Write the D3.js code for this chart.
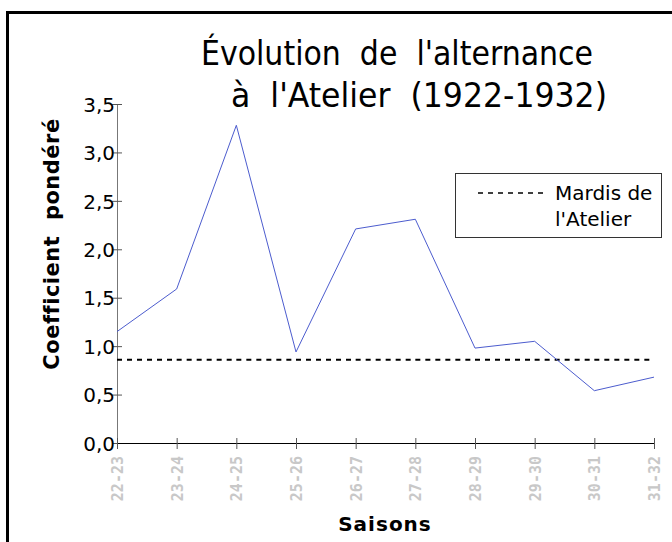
<!DOCTYPE html>
<html>
<head>
<meta charset="utf-8">
<script src="https://cdn.jsdelivr.net/npm/d3@7"></script>
<style>
  body { margin: 0; background: #fff; }
  svg { display: block; }
</style>
</head>
<body>
<svg id="chart" width="672" height="542"></svg>
<script>
// Data
const saisons = ["22-23", "23-24", "24-25", "25-26", "26-27", "27-28", "28-29", "29-30", "30-31", "31-32"];
const coefficients = [1.15, 1.59, 3.28, 0.94, 2.21, 2.31, 0.98, 1.05, 0.54, 0.68];
const mardis = [0.86, 0.86, 0.86, 0.86, 0.86, 0.86, 0.86, 0.86, 0.86, 0.86];
const yTicks = [0, 0.5, 1, 1.5, 2, 2.5, 3, 3.5];
const titleLines = ["Évolution  de  l'alternance", "à  l'Atelier  (1922-1932)"];
const legendLines = ["Mardis de", "l'Atelier"];

const svg = d3.select("#chart");

// Outer frame (right and bottom edges run off the picture)
svg.append("rect")
   .attr("x", 7.5)
   .attr("y", 12.5)
   .attr("width", 720)
   .attr("height", 620)
   .style("fill", "none")
   .style("stroke", "#000")
   .style("stroke-width", "3px");

let x = d3.scalePoint()
          .domain(saisons)
          .range([117, 654]);

let y = d3.scaleLinear()
          .domain([0, 3.5])
          .range([443, 104]);

// Title, two lines, second one shifted right
svg.append("text")
   .attr("x", 201)
   .attr("y", 65)
   .attr("textLength", 392)
   .attr("lengthAdjust", "spacingAndGlyphs")
   .style("font-family", "'Liberation Sans Narrow', 'DejaVu Sans Condensed', sans-serif")
   .style("font-size", "34px")
   .style("white-space", "pre")
   .text(titleLines[0]);

svg.append("text")
   .attr("x", 231)
   .attr("y", 107)
   .attr("textLength", 376)
   .attr("lengthAdjust", "spacingAndGlyphs")
   .style("font-family", "'Liberation Sans Narrow', 'DejaVu Sans Condensed', sans-serif")
   .style("font-size", "34px")
   .style("white-space", "pre")
   .text(titleLines[1]);

// Y axis
let yAxis = svg.append("g")
               .attr("transform", "translate(117,0)")
               .call(d3.axisLeft(y)
                       .tickValues(yTicks)
                       .tickSizeInner(-5)
                       .tickSizeOuter(0)
                       .tickPadding(2)
                       .tickFormat(d => d3.format(".1f")(d).replace(".", ",")));

yAxis.select(".domain").style("stroke", "#777");
yAxis.selectAll(".tick line")
     .attr("x1", -5)
     .attr("x2", 5)
     .style("stroke", "#555");
yAxis.selectAll(".tick text")
     .attr("x", -2)
     .attr("dy", "0.36em")
     .style("font-family", "'DejaVu Sans', sans-serif")
     .style("font-size", "20px")
     .style("fill", "#000");

// X axis
let xAxis = svg.append("g")
               .attr("transform", "translate(0,443)")
               .call(d3.axisBottom(x)
                       .tickSizeOuter(0)
                       .tickSizeInner(0));

xAxis.select(".domain").style("stroke", "#000");
xAxis.selectAll(".tick line")
     .attr("y1", -5)
     .attr("y2", 6)
     .style("stroke", "#555");
xAxis.selectAll(".tick text")
     .attr("transform", "translate(0,13) rotate(-90)")
     .attr("x", 0)
     .attr("y", 0)
     .attr("dy", "0.36em")
     .attr("text-anchor", "end")
     .style("font-family", "'DejaVu Sans Mono', monospace")
     .style("font-size", "15px")
     .style("font-weight", "bold")
     .style("fill", "#c8c8c8");

// Axis titles
svg.append("text")
   .attr("transform", "translate(59,244) rotate(-90)")
   .attr("text-anchor", "middle")
   .style("font-family", "'DejaVu Sans', sans-serif")
   .style("font-weight", "bold")
   .style("font-size", "21px")
   .style("letter-spacing", "0.5px")
   .style("white-space", "pre")
   .text("Coefficient  pondéré");

svg.append("text")
   .attr("x", 385)
   .attr("y", 531)
   .attr("text-anchor", "middle")
   .style("font-family", "'DejaVu Sans', sans-serif")
   .style("font-weight", "bold")
   .style("font-size", "20px")
   .style("letter-spacing", "1px")
   .text("Saisons");

// Mardis de l'Atelier: dashed, the pattern restarts on every segment
for (let i = 0; i < saisons.length - 1; i++) {
  svg.append("line")
     .attr("x1", x(saisons[i]))
     .attr("y1", y(mardis[i]))
     .attr("x2", x(saisons[i + 1]))
     .attr("y2", y(mardis[i + 1]))
     .style("stroke", "#000")
     .style("stroke-width", "2px")
     .style("stroke-dasharray", "5 5");
}

// Coefficient line
let line = d3.line()
             .x((d, i) => x(saisons[i]))
             .y(d => y(d));

svg.append("path")
   .datum(coefficients)
   .attr("d", line)
   .style("fill", "none")
   .style("stroke", "#4c5cce")
   .style("stroke-width", "1px");

// Legend
let legend = svg.append("g");

legend.append("rect")
      .attr("x", 455.5)
      .attr("y", 173.5)
      .attr("width", 206)
      .attr("height", 64)
      .style("fill", "#fff")
      .style("stroke", "#333")
      .style("stroke-width", "1px");

legend.append("line")
      .attr("x1", 478)
      .attr("y1", 193)
      .attr("x2", 548)
      .attr("y2", 193)
      .style("stroke", "#000")
      .style("stroke-width", "1.5px")
      .style("stroke-dasharray", "5 5");

legend.selectAll("text.leg")
      .data(legendLines)
      .enter()
      .append("text")
      .attr("class", "leg")
      .attr("x", 555)
      .attr("y", (d, i) => 200 + i * 26)
      .style("font-family", "'DejaVu Sans', sans-serif")
      .style("font-size", "20px")
      .text(d => d);
</script>
</body>
</html>
